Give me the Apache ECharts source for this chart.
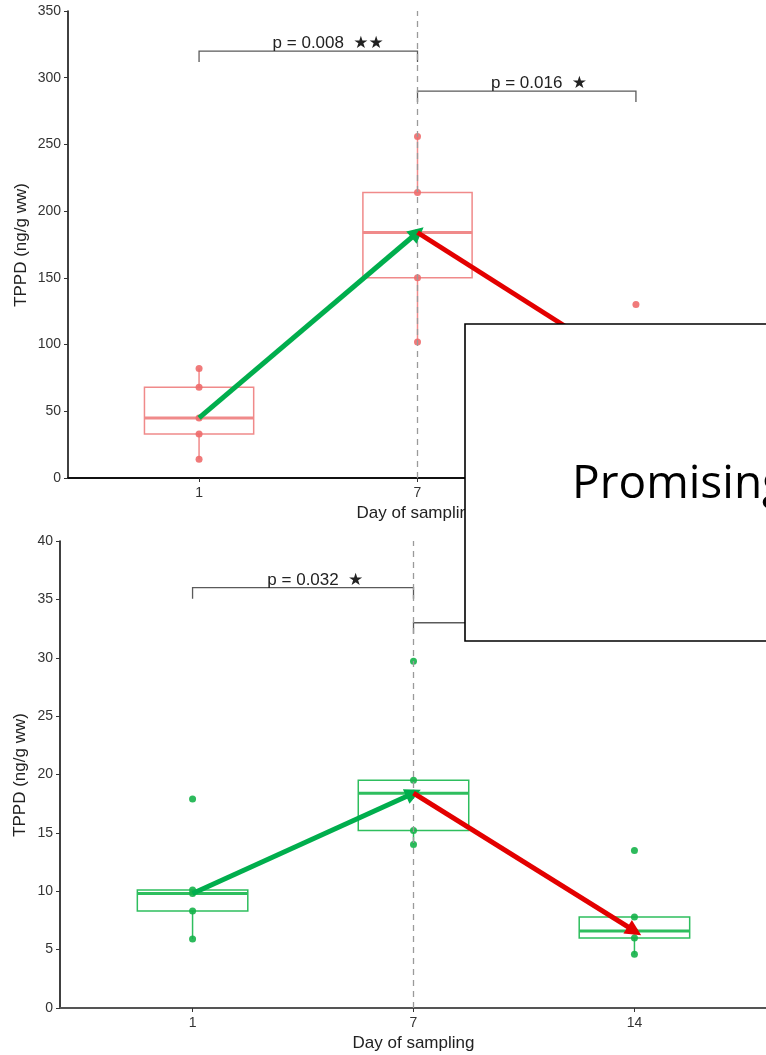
<!DOCTYPE html>
<html><head><meta charset="utf-8">
<script src="https://cdn.jsdelivr.net/npm/echarts@6/dist/echarts.min.js"></script>
<style>html,body{margin:0;padding:0;background:#fff}#c{width:766px;height:1055px}</style>
</head><body><div id="c"></div>
<script>
// ---------- data ----------
const days = ['1', '7', '14'];
const dayPos = [1, 2, 3];

// Top panel (red) – TPPD ng/g ww
const topDay1 = [82, 68, 45, 33, 14];
const topDay7 = [256, 214, 184, 150, 102];
const topDay14 = [130, 92, 80, 70, 58];
const topBrackets = [[1, 2, 320], [2, 3, 290]];
const topPLabels = ['p = 0.008', 'p = 0.016'];
const topStars = ['★★', '★'];

// Bottom panel (green)
const botDay1 = [17.9, 10.1, 9.8, 8.3, 5.9];
const botDay7 = [29.7, 19.5, 18.4, 15.2, 14.0];
const botDay14 = [13.5, 7.8, 6.6, 6.0, 4.6];
const botBrackets = [[1, 2, 36], [2, 3, 33]];
const botPLabels = ['p = 0.032', ''];
const botStars = ['★', ''];

const overlayText = 'Promising';
const xTitle = 'Day of sampling';
const yTitle = 'TPPD (ng/g ww)';

// ---------- helpers ----------
function quantile(s, p) { const h = (s.length - 1) * p, lo = Math.floor(h), hi = Math.ceil(h); return s[lo] + (s[hi] - s[lo]) * (h - lo); }
function boxStats(x, vals) {
  const s = vals.slice().sort((a, b) => a - b);
  const q1 = quantile(s, .25), md = quantile(s, .5), q3 = quantile(s, .75), iqr = q3 - q1;
  const lo = Math.min(...s.filter(v => v >= q1 - 1.5 * iqr));
  const hi = Math.max(...s.filter(v => v <= q3 + 1.5 * iqr));
  return [x, lo, q1, md, q3, hi];
}

const FONT = '"Liberation Sans", Arial, sans-serif';

function panelSeries(idx, groups, boxColor, ptColor, brackets, pLabels, stars) {
  const stats = groups.map((g, i) => boxStats(dayPos[i], g));
  const pts = [];
  groups.forEach((g, i) => g.forEach(v => pts.push([dayPos[i], v])));
  return [
    {
      type: 'custom', xAxisIndex: idx, yAxisIndex: idx, z: 2, silent: true,
      data: stats, encode: { x: 0, y: [1, 2, 3, 4, 5] },
      renderItem(params, api) {
        const x = api.value(0);
        const half = api.size([0.25, 0])[0];
        const cx = api.coord([x, 0])[0];
        const y = k => api.coord([x, api.value(k)])[1];
        const st = { stroke: boxColor, lineWidth: 1.5, fill: null };
        return { type: 'group', children: [
          { type: 'line', shape: { x1: cx, y1: y(4), x2: cx, y2: y(5) }, style: st },
          { type: 'line', shape: { x1: cx, y1: y(2), x2: cx, y2: y(1) }, style: st },
          { type: 'rect', shape: { x: cx - half, y: y(4), width: 2 * half, height: y(2) - y(4) }, style: st },
          { type: 'line', shape: { x1: cx - half, y1: y(3), x2: cx + half, y2: y(3) }, style: { stroke: boxColor, lineWidth: 3 } }
        ] };
      },
      markLine: {
        silent: true, symbol: 'none', label: { show: false },
        lineStyle: { color: '#9a9a9a', type: [6, 5], width: 1.3 },
        data: [{ xAxis: 2 }]
      }
    },
    {
      type: 'scatter', xAxisIndex: idx, yAxisIndex: idx, z: 3, silent: true,
      symbolSize: 7, itemStyle: { color: ptColor, opacity: 0.9 }, data: pts
    },
    {
      type: 'custom', xAxisIndex: idx, yAxisIndex: idx, z: 3, silent: true,
      data: brackets, encode: { x: [0, 1], y: 2 },
      renderItem(params, api) {
        const i = params.dataIndex;
        const a = api.coord([api.value(0), api.value(2)]), b = api.coord([api.value(1), api.value(2)]);
        const t = 11;
        const ch = [{ type: 'polyline', shape: { points: [[a[0], a[1] + t], [a[0], a[1]], [b[0], b[1]], [b[0], b[1] + t]] },
          style: { stroke: '#5a5a5a', lineWidth: 1.3, fill: null } }];
        const cx = (a[0] + b[0]) / 2;
        if (pLabels[i]) ch.push({ type: 'text', x: cx, y: a[1] + 1, style: { text: pLabels[i], align: 'center', verticalAlign: 'bottom', font: '17px ' + FONT, fill: '#222' } });
        if (stars[i]) ch.push({ type: 'text', x: cx + 45, y: a[1] + 1, style: { text: stars[i], align: 'left', verticalAlign: 'bottom', font: '17px "DejaVu Sans"', fill: '#222' } });
        return { type: 'group', children: ch };
      }
    },
    {
      type: 'lines', coordinateSystem: 'cartesian2d', xAxisIndex: idx, yAxisIndex: idx, z: 5, silent: true,
      symbol: ['none', 'triangle'], symbolSize: [15, 16],
      lineStyle: { width: 5, opacity: 1, curveness: 0 },
      data: [
        { coords: [[stats[0][0], stats[0][3]], [stats[1][0], stats[1][3]]], lineStyle: { color: '#00AE4D' } },
        { coords: [[stats[1][0], stats[1][3]], [stats[2][0], stats[2][3]]], lineStyle: { color: '#E30000' } }
      ]
    }
  ];
}

function xAxisCfg(idx, lineColor) {
  return {
    gridIndex: idx, type: 'value', min: 0.4, max: 3.6,
    name: xTitle, nameLocation: 'middle', nameGap: 27,
    nameTextStyle: { fontSize: 17, color: '#222', fontFamily: FONT },
    axisLine: { lineStyle: { color: lineColor, width: 1.8 } },
    axisTick: { customValues: dayPos, length: 4, lineStyle: { color: '#333' } },
    axisLabel: { customValues: dayPos, formatter: v => days[Math.round(v) - 1], fontSize: 14, color: '#333', fontFamily: FONT, margin: 8 },
    splitLine: { show: false }
  };
}
function yAxisCfg(idx, max, interval) {
  return {
    gridIndex: idx, type: 'value', min: 0, max: max, interval: interval,
    axisLine: { show: true, lineStyle: { color: '#111', width: 1.6 } },
    axisTick: { show: true, length: 4, lineStyle: { color: '#333' } },
    axisLabel: { fontSize: 14, color: '#333', fontFamily: FONT, margin: 7 },
    splitLine: { show: false }
  };
}
function yTitleGraphic(cx, cy) {
  return { type: 'text', x: cx, y: cy, rotation: Math.PI / 2, z: 50,
    style: { text: yTitle, font: '17px ' + FONT, fill: '#222', align: 'center', verticalAlign: 'middle' } };
}

const chart = echarts.init(document.getElementById('c'));
chart.setOption({
  animation: false,
  backgroundColor: '#fff',
  grid: [
    { left: 68, top: 11, width: 699, height: 467, outerBoundsMode: 'none', containLabel: false },
    { left: 60, top: 541, width: 707, height: 467, outerBoundsMode: 'none', containLabel: false }
  ],
  xAxis: [xAxisCfg(0, '#111'), xAxisCfg(1, '#555')],
  yAxis: [yAxisCfg(0, 350, 50), yAxisCfg(1, 40, 5)],
  series: [
    ...panelSeries(0, [topDay1, topDay7, topDay14], '#F08A8A', '#EE6B6B', topBrackets, topPLabels, topStars),
    ...panelSeries(1, [botDay1, botDay7, botDay14], '#2EBE5E', '#16B24A', botBrackets, botPLabels, botStars)
  ],
  graphic: [
    yTitleGraphic(21, 245),
    yTitleGraphic(20, 775),
    { type: 'rect', z: 100, shape: { x: 465, y: 324, width: 320, height: 317 }, style: { fill: '#fff', stroke: '#000', lineWidth: 1.6 } },
    { type: 'text', z: 101, x: 572, y: 485, style: { text: overlayText, font: '46px "Open Sans"', fill: '#000', verticalAlign: 'middle' } }
  ]
});
</script>
</body></html>
